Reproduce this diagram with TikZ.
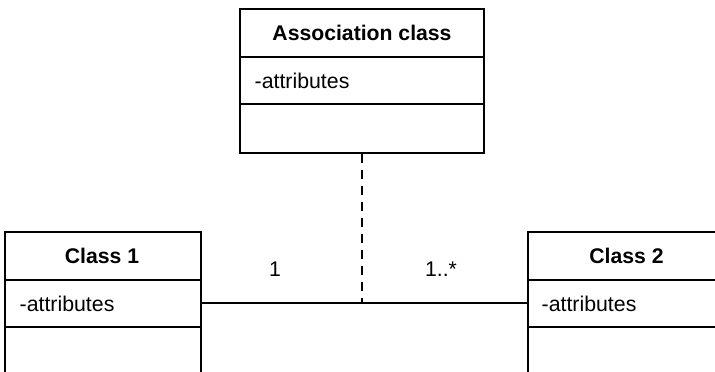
\documentclass[tikz,border=0pt]{standalone}
\usepackage{fontspec}
\setmainfont{Liberation Sans}
\begin{document}
\begin{tikzpicture}[x=1pt,y=-1pt,
  box/.style={draw=black,line width=1.5pt},
  divider/.style={draw=black,line width=2pt},
  title/.style={font=\fontsize{21.2}{25}\selectfont\bfseries,anchor=center,inner sep=0pt},
  attr/.style={font=\fontsize{21.3}{25}\selectfont,anchor=west,inner sep=0pt},
  mult/.style={font=\fontsize{21.2}{25}\selectfont,anchor=center,inner sep=0pt},
  assoc/.style={draw=black,line width=1.5pt},
  assocdash/.style={draw=black,line width=1.5pt,dash pattern=on 9pt off 7pt}]
\useasboundingbox (0,0) rectangle (715,372);
\begin{scope}
\clip (0,0) rectangle (715,372);
% Association class
\node[box,minimum width=244pt,minimum height=144pt,inner sep=0pt] (ac) at (362,81) {};
\draw[divider] (240,57) -- (484,57);
\draw[divider] (240,104) -- (484,104);
\node[title] (actitle) at (362,33) {Association class};
\node[attr] (acattr) at (254.5,81) {-attributes};
% Class 1
\node[box,minimum width=196pt,minimum height=144pt,inner sep=0pt] (c1) at (103,304) {};
\draw[divider] (5,280) -- (201,280);
\draw[divider] (5,327) -- (201,327);
\node[title] (c1title) at (102,256) {Class 1};
\node[attr] (c1attr) at (19.5,304) {-attributes};
% Class 2
\node[box,minimum width=197pt,minimum height=144pt,inner sep=0pt] (c2) at (626.5,304) {};
\draw[divider] (528,280) -- (725,280);
\draw[divider] (528,327) -- (725,327);
\node[title] (c2title) at (626.5,256) {Class 2};
\node[attr] (c2attr) at (541.5,304) {-attributes};
% connectors
\coordinate (mid) at (362,303);
\draw[assoc] (c1.east |- mid) -- (c2.west |- mid);
\draw[assocdash] (ac.south) -- (mid);
\node[mult] (m1) at (275,269) {1};
\node[mult] (m2) at (441,269) {1..*};
\end{scope}
\end{tikzpicture}
\end{document}
